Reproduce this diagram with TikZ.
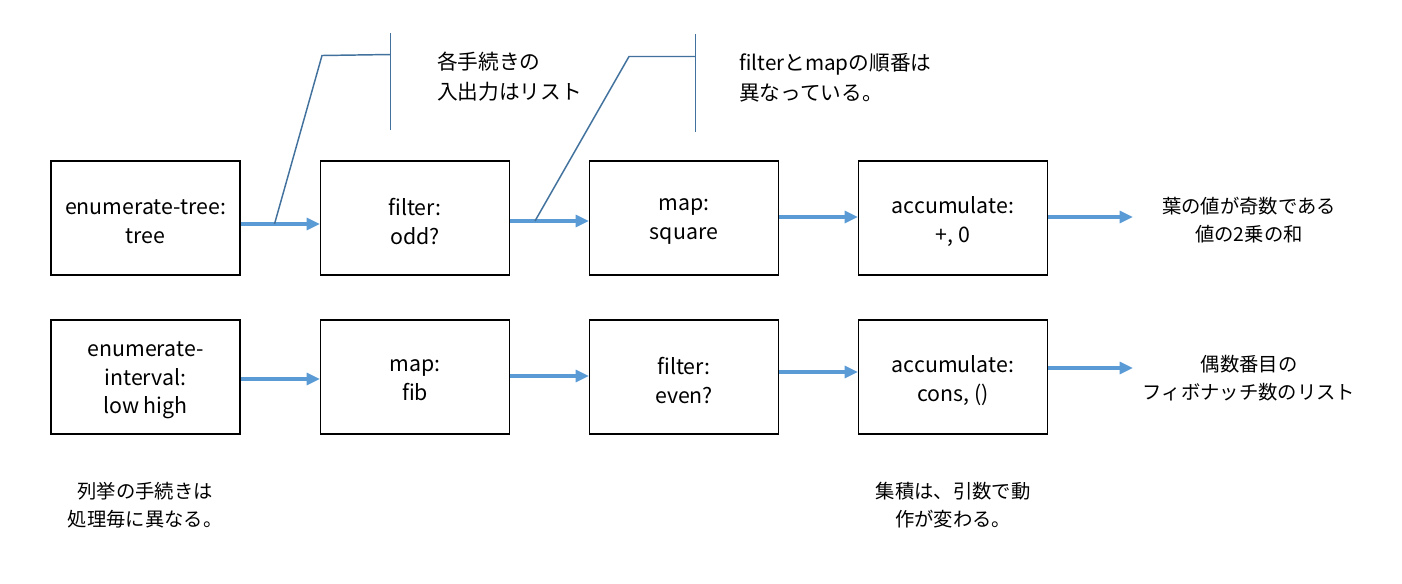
\documentclass[tikz,border=0pt]{standalone}
\usepackage{fontspec}
\setmainfont{Noto Sans CJK JP}
\usetikzlibrary{arrows.meta}
\definecolor{arrblue}{HTML}{5B9BD5}
\definecolor{callblue}{HTML}{41719C}
\tikzset{
  procbox/.style={draw=black, line width=0.9pt, minimum width=141.75pt, minimum height=85.5pt, inner sep=0pt},
  boxtext/.style={align=center, inner sep=0pt, font=\fontsize{16}{21.5}\selectfont},
  flow/.style={draw=arrblue, line width=2.3pt, -{Triangle[length=10pt,width=9pt]}},
  callout/.style={draw=callblue, line width=1.1pt},
  note/.style={align=center, inner sep=0pt, font=\fontsize{14.5}{20.5}\selectfont},
  bignote/.style={align=left, inner sep=0pt, anchor=west, font=\fontsize{15.5}{22.5}\selectfont},
}
\begin{document}
\begin{tikzpicture}[x=0.75pt,y=-0.75pt]
\useasboundingbox (0,0) rectangle (1402,583);
% row 1
\node[procbox] (b1) at (145.5,218) {};
\node[procbox] (b2) at (415,218) {};
\node[procbox] (b3) at (684,218) {};
\node[procbox] (b4) at (953,218) {};
\node[boxtext] (b1t) at ([yshift=-2.6pt]b1.center) {enumerate-tree:\\tree};
\node[boxtext] (b2t) at ([yshift=-2.6pt]b2.center) {filter:\\odd?};
\node[boxtext] (b3t) at ([yshift=-2.6pt]b3.center) {map:\\square};
\node[boxtext] (b4t) at ([yshift=-2.6pt]b4.center) {accumulate:\\+, 0};
% row 2
\node[procbox] (c1) at (145.5,377) {};
\node[procbox] (c2) at (415,377) {};
\node[procbox] (c3) at (684,377) {};
\node[procbox] (c4) at (953,377) {};
\node[boxtext] (c1t) at ([yshift=-2.6pt]c1.center) {enumerate-\\interval:\\low high};
\node[boxtext] (c2t) at ([yshift=-2.6pt]c2.center) {map:\\fib};
\node[boxtext] (c3t) at ([yshift=-2.6pt]c3.center) {filter:\\even?};
\node[boxtext] (c4t) at ([yshift=-2.6pt]c4.center) {accumulate:\\cons, ()};
% outputs
\coordinate (o1) at (1133,217);
\coordinate (o2) at (1133,368);
\node[note] (t1) at (1249,220) {葉の値が奇数である\\値の2乗の和};
\node[note] (t2) at (1249,378) {偶数番目の\\フィボナッチ数のリスト};
% flow arrows
\draw[flow] ([yshift=-4.5pt]b1.east) -- ([yshift=-4.5pt]b2.west);
\draw[flow] ([yshift=-2.25pt]b2.east) -- ([yshift=-2.25pt]b3.west);
\draw[flow] ([yshift=0.75pt]b3.east) -- ([yshift=0.75pt]b4.west);
\draw[flow] ([yshift=0.75pt]b4.east) -- (o1);
\draw[flow] ([yshift=-1.5pt]c1.east) -- ([yshift=-1.5pt]c2.west);
\draw[flow] ([yshift=0.75pt]c2.east) -- ([yshift=0.75pt]c3.west);
\draw[flow] ([yshift=3.75pt]c3.east) -- ([yshift=3.75pt]c4.west);
\draw[flow] ([yshift=6.75pt]c4.east) -- (o2);
% callout 1
\coordinate (k1top) at (390.5,33);
\coordinate (k1bot) at (390.5,130);
\coordinate (k1mid) at (390.5,54.5);
\coordinate (k1knee) at (322,55.5);
\coordinate (k1end) at (274.5,224);
\draw[callout] (k1top) -- (k1bot);
\draw[callout] (k1mid) -- (k1knee) -- (k1end);
\node[bignote] (n1) at (437,77) {各手続きの\\入出力はリスト};
% callout 2
\coordinate (k2top) at (695.5,34);
\coordinate (k2bot) at (695.5,132);
\coordinate (k2mid) at (695.5,56.5);
\coordinate (k2knee) at (629,56.5);
\coordinate (k2end) at (535,221);
\draw[callout] (k2top) -- (k2bot);
\draw[callout] (k2mid) -- (k2knee) -- (k2end);
\node[bignote] (n2) at (739,78) {filterとmapの順番は\\異なっている。};
% bottom notes
\node[note] (n3) at (145,505) {列挙の手続きは\\処理毎に異なる。};
\node[note] (n4) at (953,505) {集積は、引数で動\\作が変わる。};
\end{tikzpicture}
\end{document}
